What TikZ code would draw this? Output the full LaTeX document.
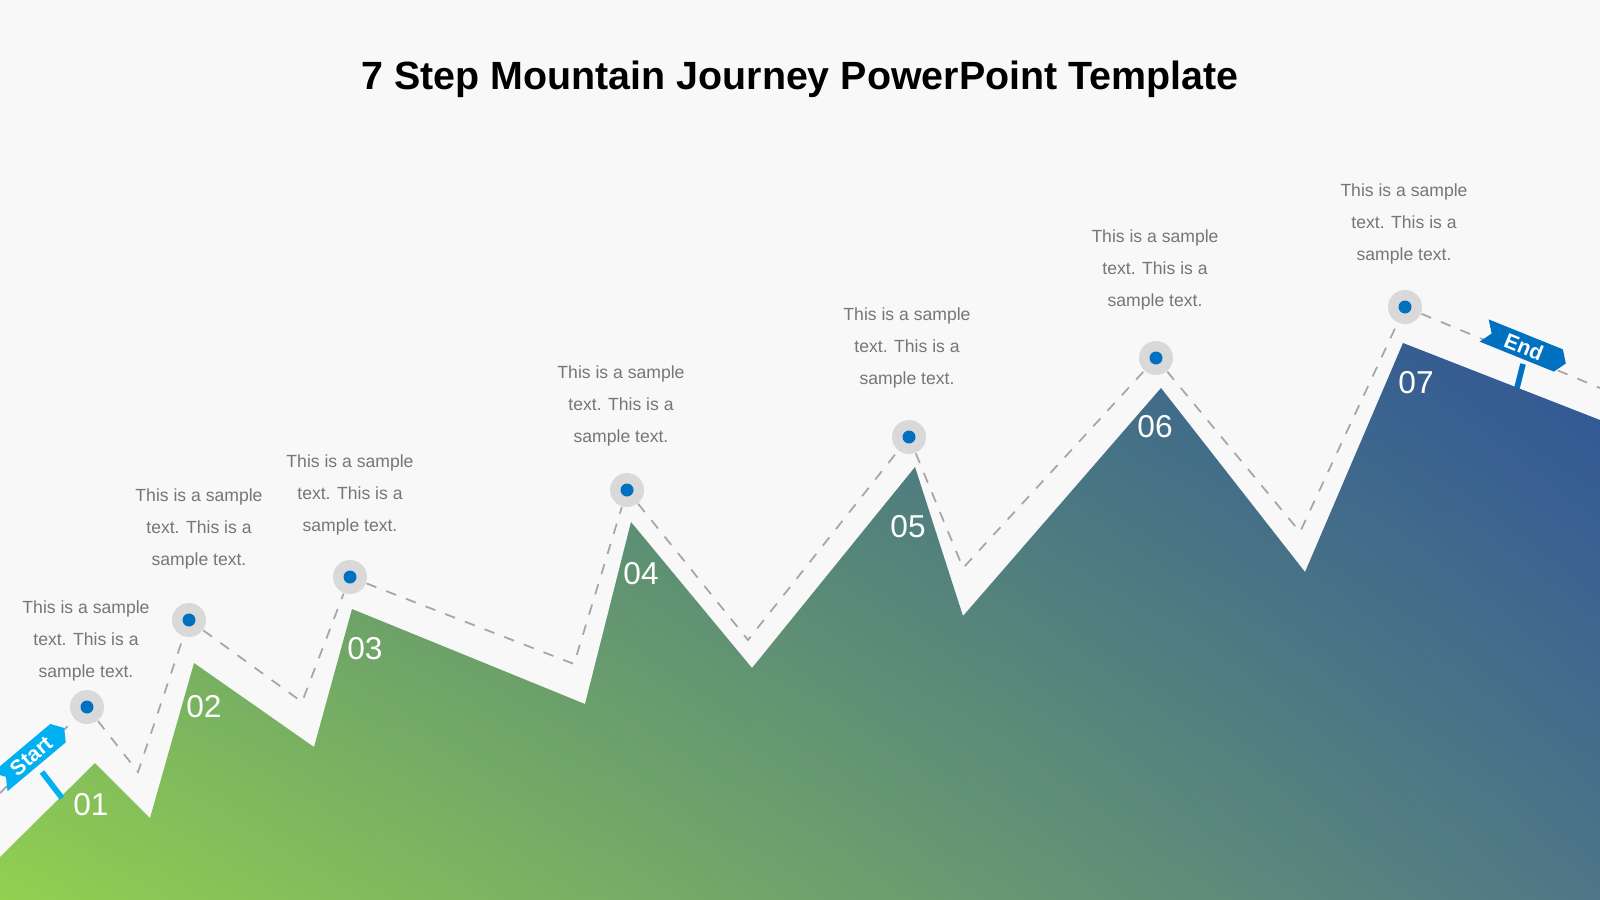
\documentclass[tikz,border=0pt]{standalone}
\usepackage{fontspec}
\setmainfont{Liberation Sans}
\usetikzlibrary{shadings}
\definecolor{bgcol}{RGB}{248,248,248}
\definecolor{greenc}{RGB}{146,208,80}
\definecolor{midc}{RGB}{100,155,105}
\definecolor{midlr}{RGB}{78,118,135}
\definecolor{bluec}{RGB}{47,85,151}
\definecolor{dotc}{RGB}{0,112,192}
\definecolor{ringc}{RGB}{217,217,217}
\definecolor{startc}{RGB}{0,176,240}
\definecolor{txtc}{RGB}{118,118,118}
\tikzset{
  ring/.style={circle, fill=ringc, minimum size=0.34cm, inner sep=0pt},
  stepno/.style={text=white, font=\fontsize{9}{10}\selectfont},
  sample/.style={text=txtc, align=center, font=\fontsize{5}{9.1}\selectfont},
  trail/.style={draw=gray!70, dashed, line width=0.5pt}
}
\begin{document}
\begin{tikzpicture}[x=0.01cm, y=-0.01cm]
  % background
  \fill[bgcol] (0,0) rectangle (1600,900);
  \useasboundingbox (0,0) rectangle (1600,900);

  % title
  \node[font=\bfseries\fontsize{11.2}{13}\selectfont] (title) at (800,79) {7 Step Mountain Journey PowerPoint Template};

  % MOUNTAIN
  \shade[lower left=greenc, upper right=bluec, upper left=midc, lower right=midlr]
    (0,857)--(95,763)--(150,818)--(194,663)--(314,747)--(352,609)--(585,704)--(631,522)
    --(752,668)--(915,467)--(963,616)--(1161,388)--(1305,572)--(1403,343)--(1600,420)
    --(1600,900)--(0,900)--cycle;

  % trail points
  \coordinate (t0) at (0,793);
  \coordinate (v1) at (138,772);
  \coordinate (v2) at (302,702);
  \coordinate (v3) at (574,664);
  \coordinate (v4) at (748,640);
  \coordinate (v5) at (963,568);
  \coordinate (v6) at (1300,532);
  \coordinate (t8) at (1600,388);

  % DRAW STOPS
  \foreach \n/\x/\y in {1/87/707, 2/189/620, 3/350/577, 4/627/490, 5/909/437, 6/1156/358, 7/1405/307}{
    \node[ring] (c\n) at (\x,\y) {};
  }
  \draw[trail] (t0)--(c1)--(v1)--(c2)--(v2)--(c3)--(v3)--(c4)--(v4)--(c5)--(v5)--(c6)--(v6)--(c7)--(t8);
  \foreach \n in {1,...,7}{
    \fill[dotc] (c\n) circle (6.5);
  }

  % step numbers
  \node[stepno] (n1) at (91,805) {01};
  \node[stepno] (n2) at (204,707) {02};
  \node[stepno] (n3) at (365,649) {03};
  \node[stepno] (n4) at (641,574) {04};
  \node[stepno] (n5) at (908,527) {05};
  \node[stepno] (n6) at (1155,427) {06};
  \node[stepno] (n7) at (1416,383) {07};

  % sample texts
  \foreach \n/\x/\y in {1/86/641, 2/199/529, 3/350/495, 4/621/406, 5/907/348, 6/1155/270, 7/1404/224}{
    \node[sample] (s\n) at (\x,\y) {This is a sample\\text. This is a\\sample text.};
  }

  % START FLAG
  \coordinate (sp1) at (42,772);
  \coordinate (sp2) at (62,798);
  \draw[startc, line width=1.6pt] (sp1)--(sp2);
  \begin{scope}[shift={(32,755)}, rotate=40]
    \fill[startc] (-42,12)--(34,12)--(42,0)--(34,-12)--(-42,-12)--(-34,0)--cycle;
  \end{scope}
  \node[rotate=40, text=white, inner sep=1pt, font=\bfseries\fontsize{6}{7}\selectfont] (start) at (31,756) {Start};

  % END FLAG
  \coordinate (ep1) at (1523,364);
  \coordinate (ep2) at (1517,388);
  \draw[dotc, line width=1.6pt] (ep1)--(ep2);
  \begin{scope}[shift={(1525,347)}, rotate=-22]
    \fill[dotc] (-44,12)--(36,12)--(44,0)--(36,-12)--(-44,-12)--(-36,0)--cycle;
  \end{scope}
  \node[rotate=-22, text=white, inner sep=1pt, font=\bfseries\fontsize{6}{7}\selectfont] (end) at (1524,347) {End};
\end{tikzpicture}
\end{document}
